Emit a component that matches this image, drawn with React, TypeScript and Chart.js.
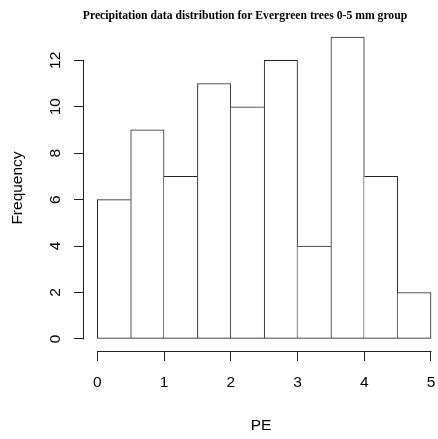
import { useEffect, useRef } from "react";
import { Chart, registerables } from "chart.js";

Chart.register(...registerables);

const chartTitle = "Precipitation data distribution for Evergreen trees 0-5 mm group";
const xAxisTitle = "PE";
const yAxisTitle = "Frequency";
const binBreaks = [0, 0.5, 1, 1.5, 2, 2.5, 3, 3.5, 4, 4.5, 5];
const binCounts = [6, 9, 7, 11, 10, 12, 4, 13, 7, 2];
const xTickValues = [0, 1, 2, 3, 4, 5];
const yTickValues = [0, 2, 4, 6, 8, 10, 12];

const W = 438;
const H = 439;
const LINE = "#222";
const SANS = "'Liberation Sans', Arial, sans-serif";

const rAxisPlugin = {
  id: "rAxis",
  afterDraw(chart: any) {
    const { ctx, chartArea, scales } = chart;
    const xs = scales.x;
    const ys = scales.y;
    ctx.save();
    ctx.strokeStyle = LINE;
    ctx.lineWidth = 1;
    const yLine = Math.round(chartArea.bottom) + 0.5;
    ctx.beginPath();
    ctx.moveTo(Math.round(xs.getPixelForValue(xTickValues[0])) + 0.5, yLine);
    ctx.lineTo(Math.round(xs.getPixelForValue(xTickValues[xTickValues.length - 1])) + 0.5, yLine);
    ctx.stroke();
    const xLine = Math.round(chartArea.left) - 0.5;
    ctx.beginPath();
    ctx.moveTo(xLine, Math.round(ys.getPixelForValue(yTickValues[0])) + 0.5);
    ctx.lineTo(xLine, Math.round(ys.getPixelForValue(yTickValues[yTickValues.length - 1])) + 0.5);
    ctx.stroke();
    // main title
    ctx.fillStyle = "#000";
    ctx.font = "bold 11.7px 'Liberation Serif', 'Times New Roman', serif";
    ctx.textAlign = "center";
    ctx.textBaseline = "alphabetic";
    ctx.fillText(chartTitle, 245, 19);
    ctx.restore();
  },
};

export default function App() {
  const ref = useRef<HTMLCanvasElement | null>(null);
  useEffect(() => {
    if (!ref.current) return;
    const data = binCounts.map((c, i) => ({ x: (binBreaks[i] + binBreaks[i + 1]) / 2, y: c }));
    const n = binCounts.length;
    const chart = new Chart(ref.current, {
      type: "bar",
      data: {
        datasets: [
          {
            data,
            backgroundColor: "#ffffff",
            borderColor: LINE,
            borderWidth: (c: any) => {
              const i = c.dataIndex;
              const v = binCounts[i];
              return {
                top: 1,
                bottom: 1,
                left: i === 0 || v >= binCounts[i - 1] ? 1 : 0,
                right: i === n - 1 || v > binCounts[i + 1] ? 1 : 0,
              };
            },
            borderSkipped: false,
            barPercentage: 1,
            categoryPercentage: 1,
          } as any,
        ],
      },
      options: {
        animation: false,
        responsive: false,
        layout: { padding: { top: 25, left: 0, right: 0, bottom: 0 } },
        plugins: { legend: { display: false }, tooltip: { enabled: false }, title: { display: false } },
        scales: {
          x: {
            type: "linear",
            offset: false,
            min: -0.2,
            max: 5.105,
            afterFit: (s: any) => {
              s.height = 88;
              s.paddingLeft = 0;
              s.paddingRight = 0;
            },
            afterBuildTicks: (s: any) => {
              s.ticks = xTickValues.map((v) => ({ value: v }));
            },
            border: { display: false },
            grid: { display: true, offset: false, drawOnChartArea: false, drawTicks: true, tickLength: 10, color: LINE, tickColor: LINE },
            ticks: { color: "#000", font: { family: SANS, size: 15.5 }, padding: 12, maxRotation: 0, minRotation: 0, autoSkip: false },
            title: { display: true, text: xAxisTitle, color: "#000", font: { family: SANS, size: 15.5 }, padding: { top: 0, bottom: 3.5 } },
          },
          y: {
            type: "linear",
            min: -0.52,
            max: 13.52,
            afterFit: (s: any) => {
              s.width = 84;
              s.paddingTop = 0;
              s.paddingBottom = 0;
            },
            afterBuildTicks: (s: any) => {
              s.ticks = yTickValues.map((v) => ({ value: v }));
            },
            border: { display: false },
            grid: { display: true, drawOnChartArea: false, drawTicks: true, tickLength: 10, color: LINE, tickColor: LINE },
            ticks: { color: "#000", font: { family: SANS, size: 15.5 }, padding: 9.5, minRotation: 90, maxRotation: 90, crossAlign: "center", autoSkip: false },
            title: { display: true, text: yAxisTitle, color: "#000", font: { family: SANS, size: 15.5 }, padding: { top: 8.5, bottom: 0 } },
          },
        },
      } as any,
      plugins: [rAxisPlugin],
    });
    return () => chart.destroy();
  }, []);
  return (
    <div style={{ position: "absolute", left: 0, top: 0, width: W, height: H, background: "#fff" }}>
      <canvas ref={ref} width={W} height={H} style={{ display: "block", width: W, height: H }} />
    </div>
  );
}
